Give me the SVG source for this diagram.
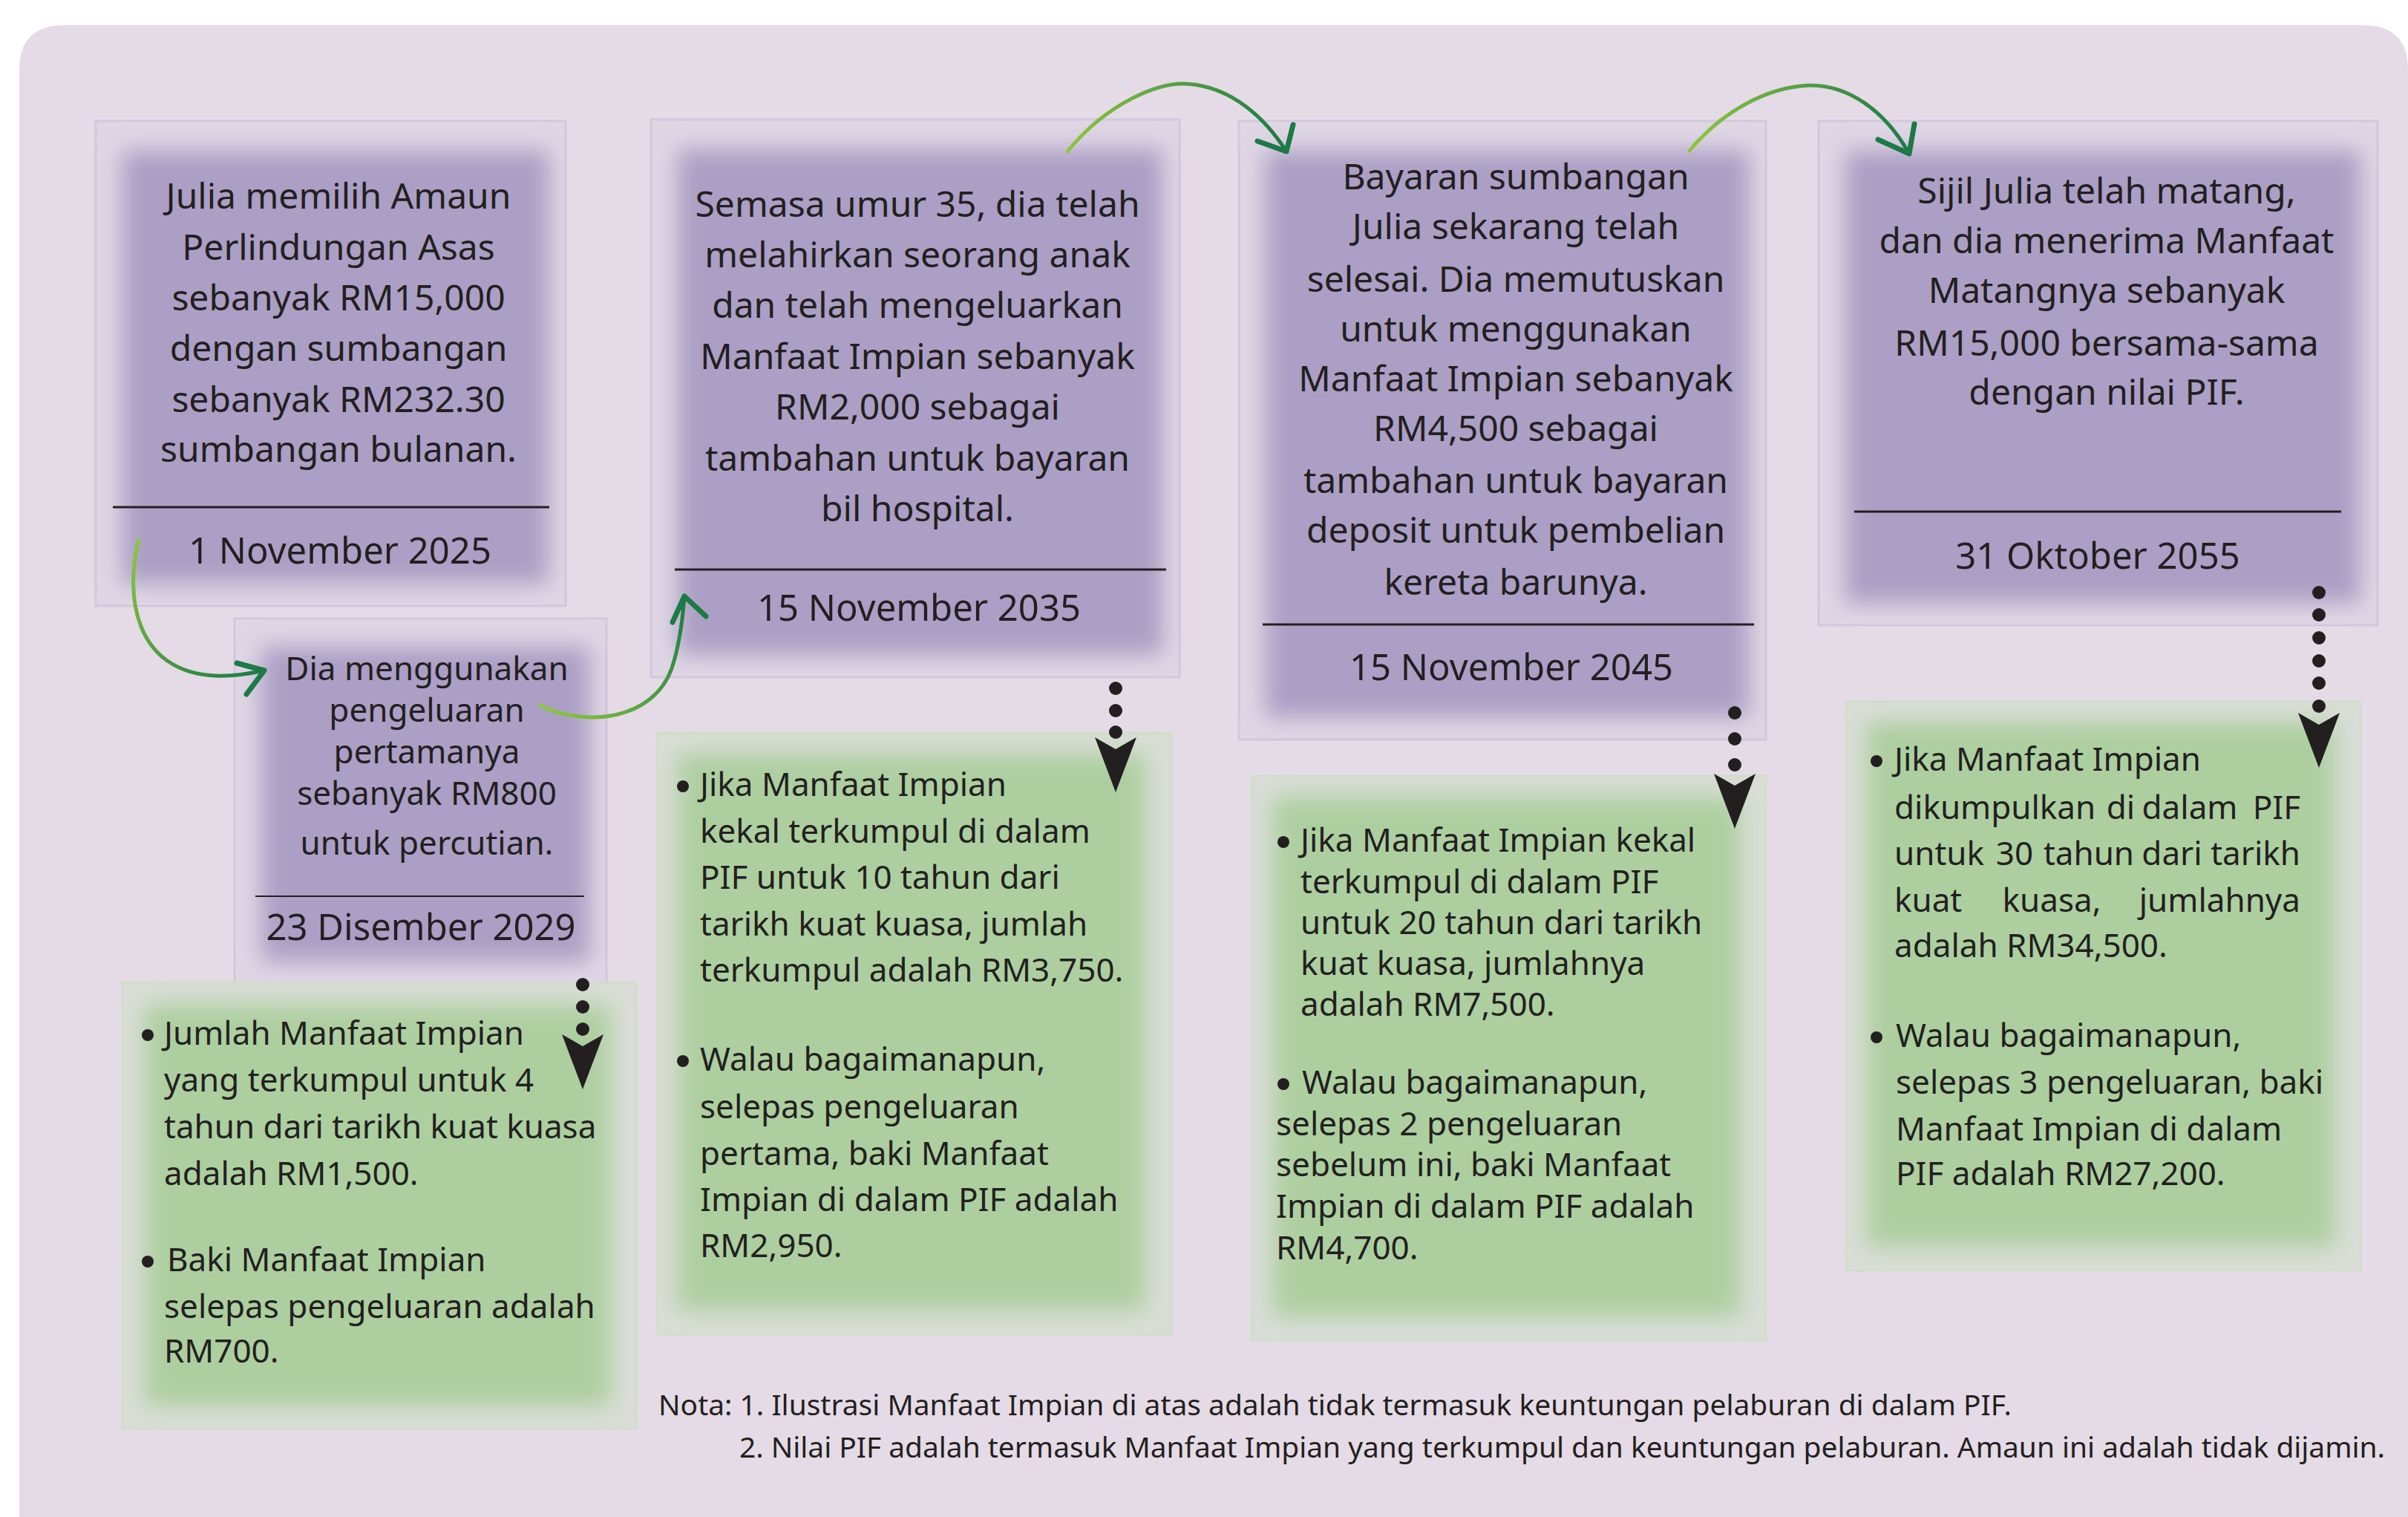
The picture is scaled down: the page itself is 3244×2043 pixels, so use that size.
<svg xmlns="http://www.w3.org/2000/svg" width="3244" height="2043" viewBox="0 0 3244 2043">
<defs>
<style>
.t{font-family:"Noto Sans","Liberation Sans",sans-serif;fill:#231F20}
.nt{font-size:48px;text-anchor:middle}
.n2{font-size:44px;text-anchor:middle}
.dt{font-size:49px;text-anchor:middle}
.gt{font-size:44px}
.end{text-anchor:end}
.mid{text-anchor:middle}
.note{font-size:38px}
.pout{fill:#DFD6E4;stroke:#D2C8DD;stroke-width:3}
.pin{fill:#AB9FC5;filter:url(#soft)}
.gout{fill:#D9DDD6;stroke:#D0DECA;stroke-width:3}
.gin{fill:#ADCFA0;filter:url(#soft)}
.sep{stroke:#231F20;stroke-width:3}
.dot{fill:#231F20}
.curve{fill:none;stroke-width:5;stroke-linecap:round}
.chev{fill:none;stroke:#1B7A45;stroke-width:7;stroke-linecap:round;stroke-linejoin:round}
</style>
<filter id="soft" x="-20%" y="-20%" width="140%" height="140%"><feGaussianBlur stdDeviation="15"/></filter>
<linearGradient id="g1" gradientUnits="userSpaceOnUse" x1="187" y1="727" x2="356" y2="903"><stop offset="0" stop-color="#8CC63F"/><stop offset="1" stop-color="#1B7A45"/></linearGradient>
<linearGradient id="g2" gradientUnits="userSpaceOnUse" x1="727" y1="950" x2="922" y2="803"><stop offset="0" stop-color="#8CC63F"/><stop offset="1" stop-color="#1B7A45"/></linearGradient>
<linearGradient id="g3" gradientUnits="userSpaceOnUse" x1="1438" y1="204" x2="1733" y2="204"><stop offset="0" stop-color="#8CC63F"/><stop offset="1" stop-color="#1B7A45"/></linearGradient>
<linearGradient id="g4" gradientUnits="userSpaceOnUse" x1="2276" y1="203" x2="2572" y2="207"><stop offset="0" stop-color="#8CC63F"/><stop offset="1" stop-color="#1B7A45"/></linearGradient>
<path id="stealth" d="M-28,0 L0,16 L28,0 L0,74 Z"/>
</defs>

<path id="background" d="M26,2100 L26,94 Q26,34 86,34 L3184,34 Q3244,34 3244,94 L3244,2100 Z" fill="#E5DBE6"/>

<g id="node1">
<rect class="pout" x="129" y="163" width="633" height="653"/>
<rect class="pin" x="165" y="203" width="574" height="583"/>
<text class="t nt" x="456"><tspan x="456" y="281">Julia memilih Amaun</tspan><tspan x="456" y="350">Perlindungan Asas</tspan><tspan x="456" y="418">sebanyak RM15,000</tspan><tspan x="456" y="486">dengan sumbangan</tspan><tspan x="456" y="555">sebanyak RM232.30</tspan><tspan x="456" y="622">sumbangan bulanan.</tspan></text>
<line class="sep" x1="152" y1="683" x2="740" y2="683"/>
<text class="t dt" x="458" y="759">1 November 2025</text>
</g>

<g id="node2">
<rect class="pout" x="316" y="833" width="501" height="492"/>
<rect class="pin" x="352" y="871" width="442" height="424"/>
<text class="t n2"><tspan x="575" y="916">Dia menggunakan</tspan><tspan x="575" y="972">pengeluaran</tspan><tspan x="575" y="1028">pertamanya</tspan><tspan x="575" y="1084">sebanyak RM800</tspan><tspan x="575" y="1151">untuk percutian.</tspan></text>
<line x1="344" y1="1207" x2="787" y2="1207" stroke="#231F20" stroke-width="2"/>
<text class="t dt" x="567" y="1266">23 Disember 2029</text>
</g>

<g id="node3">
<rect class="pout" x="877" y="161" width="712" height="751"/>
<rect class="pin" x="913" y="201" width="653" height="681"/>
<text class="t nt"><tspan x="1236" y="292">Semasa umur 35, dia telah</tspan><tspan x="1236" y="360">melahirkan seorang anak</tspan><tspan x="1236" y="428">dan telah mengeluarkan</tspan><tspan x="1236" y="497">Manfaat Impian sebanyak</tspan><tspan x="1236" y="565">RM2,000 sebagai</tspan><tspan x="1236" y="634">tambahan untuk bayaran</tspan><tspan x="1236" y="702">bil hospital.</tspan></text>
<line class="sep" x1="909" y1="767" x2="1571" y2="767"/>
<text class="t dt" x="1238" y="836">15 November 2035</text>
</g>

<g id="node4">
<rect class="pout" x="1669" y="163" width="710" height="833"/>
<rect class="pin" x="1705" y="203" width="651" height="763"/>
<text class="t nt"><tspan x="2042" y="255">Bayaran sumbangan</tspan><tspan x="2042" y="322">Julia sekarang telah</tspan><tspan x="2042" y="393">selesai. Dia memutuskan</tspan><tspan x="2042" y="460">untuk menggunakan</tspan><tspan x="2042" y="527">Manfaat Impian sebanyak</tspan><tspan x="2042" y="594">RM4,500 sebagai</tspan><tspan x="2042" y="664">tambahan untuk bayaran</tspan><tspan x="2042" y="731">deposit untuk pembelian</tspan><tspan x="2042" y="801">kereta barunya.</tspan></text>
<line class="sep" x1="1701" y1="841" x2="2363" y2="841"/>
<text class="t dt" x="2036" y="916">15 November 2045</text>
</g>

<g id="node5">
<rect class="pout" x="2450" y="163" width="753" height="679"/>
<rect class="pin" x="2486" y="203" width="694" height="609"/>
<text class="t nt"><tspan x="2838" y="274">Sijil Julia telah matang,</tspan><tspan x="2838" y="341">dan dia menerima Manfaat</tspan><tspan x="2838" y="408">Matangnya sebanyak</tspan><tspan x="2838" y="479">RM15,000 bersama-sama</tspan><tspan x="2838" y="545">dengan nilai PIF.</tspan></text>
<line class="sep" x1="2498" y1="689" x2="3154" y2="689"/>
<text class="t dt" x="2826" y="766">31 Oktober 2055</text>
</g>

<g id="green1">
<rect class="gout" x="165" y="1323" width="692" height="601"/>
<rect class="gin" x="195" y="1353" width="627" height="540"/>
<circle class="dot" cx="199" cy="1394" r="8"/>
<circle class="dot" cx="199" cy="1699" r="8"/>
<text class="t gt"><tspan x="221" y="1407">Jumlah Manfaat Impian</tspan><tspan x="221" y="1470">yang terkumpul untuk 4</tspan><tspan x="221" y="1533">tahun dari tarikh kuat kuasa</tspan><tspan x="221" y="1596">adalah RM1,500.</tspan><tspan x="225" y="1712">Baki Manfaat Impian</tspan><tspan x="221" y="1775">selepas pengeluaran adalah</tspan><tspan x="221" y="1835">RM700.</tspan></text>
</g>

<g id="green2">
<rect class="gout" x="885" y="987" width="693" height="810"/>
<rect class="gin" x="913" y="1015" width="630" height="750"/>
<circle class="dot" cx="920" cy="1059" r="8"/>
<circle class="dot" cx="920" cy="1429" r="8"/>
<text class="t gt"><tspan x="943" y="1072">Jika Manfaat Impian</tspan><tspan x="943" y="1135">kekal terkumpul di dalam</tspan><tspan x="943" y="1197">PIF untuk 10 tahun dari</tspan><tspan x="943" y="1260">tarikh kuat kuasa, jumlah</tspan><tspan x="943" y="1322">terkumpul adalah RM3,750.</tspan><tspan x="943" y="1442">Walau bagaimanapun,</tspan><tspan x="943" y="1506">selepas pengeluaran</tspan><tspan x="943" y="1569">pertama, baki Manfaat</tspan><tspan x="943" y="1631">Impian di dalam PIF adalah</tspan><tspan x="943" y="1693">RM2,950.</tspan></text>
</g>

<g id="green3">
<rect class="gout" x="1687" y="1045" width="692" height="760"/>
<rect class="gin" x="1715" y="1073" width="629" height="700"/>
<circle class="dot" cx="1729" cy="1134" r="8"/>
<circle class="dot" cx="1729" cy="1460" r="8"/>
<text class="t gt"><tspan x="1752" y="1147">Jika Manfaat Impian kekal</tspan><tspan x="1752" y="1203">terkumpul di dalam PIF</tspan><tspan x="1752" y="1258">untuk 20 tahun dari tarikh</tspan><tspan x="1752" y="1313">kuat kuasa, jumlahnya</tspan><tspan x="1752" y="1368">adalah RM7,500.</tspan><tspan x="1754" y="1473">Walau bagaimanapun,</tspan><tspan x="1719" y="1529">selepas 2 pengeluaran</tspan><tspan x="1719" y="1584">sebelum ini, baki Manfaat</tspan><tspan x="1719" y="1640">Impian di dalam PIF adalah</tspan><tspan x="1719" y="1696">RM4,700.</tspan></text>
</g>

<g id="green4">
<rect class="gout" x="2487" y="945" width="693" height="766"/>
<rect class="gin" x="2515" y="973" width="630" height="706"/>
<circle class="dot" cx="2528" cy="1025" r="8"/>
<circle class="dot" cx="2528" cy="1397" r="8"/>
<text class="t gt" x="2552" y="1038">Jika Manfaat Impian</text>
<text class="t gt" x="2552" y="1103">dikumpulkan</text>
<text class="t gt mid" y="1103"><tspan x="2857">di</tspan><tspan x="2950">dalam</tspan></text>
<text class="t gt end" x="3099" y="1103">PIF</text>
<text class="t gt" x="2552" y="1165">untuk</text>
<text class="t gt mid" y="1165"><tspan x="2714">30</tspan><tspan x="2814">tahun</tspan><tspan x="2926">dari</tspan></text>
<text class="t gt end" x="3099" y="1165">tarikh</text>
<text class="t gt" x="2552" y="1228">kuat</text>
<text class="t gt mid" x="2764" y="1228">kuasa,</text>
<text class="t gt end" x="3099" y="1228">jumlahnya</text>
<text class="t gt"><tspan x="2552" y="1289">adalah RM34,500.</tspan><tspan x="2554" y="1410">Walau bagaimanapun,</tspan><tspan x="2554" y="1473">selepas 3 pengeluaran, baki</tspan><tspan x="2554" y="1536">Manfaat Impian di dalam</tspan><tspan x="2554" y="1596">PIF adalah RM27,200.</tspan></text>
</g>

<g id="connectors">
<path class="curve" stroke="url(#g1)" d="M187,727 C168,800 180,905 290,910 C320,911 340,906 356,903"/>
<path class="chev" d="M319,893 L356,903 L332,935"/>
<path class="curve" stroke="url(#g2)" d="M727,950 C790,980 880,970 905,900 C915,870 920,830 922,803"/>
<path class="chev" d="M906,838 L922,803 L951,830"/>
<path class="curve" stroke="url(#g3)" d="M1438,204 C1490,140 1560,110 1600,113 C1660,117 1705,160 1733,204"/>
<path class="chev" d="M1694,190 L1733,204 L1742,168"/>
<path class="curve" stroke="url(#g4)" d="M2276,203 C2320,150 2380,118 2435,115 C2490,113 2540,150 2572,207"/>
<path class="chev" d="M2530,188 L2572,207 L2579,167"/>

<g id="dotted1"><circle class="dot" cx="785" cy="1326" r="9"/><circle class="dot" cx="785" cy="1356" r="9"/><circle class="dot" cx="785" cy="1386" r="9"/><use href="#stealth" x="785" y="1393" class="dot"/></g>
<g id="dotted2"><circle class="dot" cx="1503" cy="927" r="9"/><circle class="dot" cx="1503" cy="957" r="9"/><circle class="dot" cx="1503" cy="986" r="9"/><use href="#stealth" x="1503" y="993" class="dot"/></g>
<g id="dotted3"><circle class="dot" cx="2337" cy="960" r="9"/><circle class="dot" cx="2337" cy="995" r="9"/><circle class="dot" cx="2337" cy="1030" r="9"/><use href="#stealth" x="2337" y="1042" class="dot"/></g>
<g id="dotted4"><circle class="dot" cx="3124" cy="798" r="9"/><circle class="dot" cx="3124" cy="828" r="9"/><circle class="dot" cx="3124" cy="859" r="9"/><circle class="dot" cx="3124" cy="890" r="9"/><circle class="dot" cx="3124" cy="920" r="9"/><circle class="dot" cx="3124" cy="951" r="9"/><use href="#stealth" x="3124" y="960" class="dot"/></g>
</g>

<g id="notes">
<text class="t note" x="887" y="1906" textLength="1823" lengthAdjust="spacingAndGlyphs">Nota: 1. Ilustrasi Manfaat Impian di atas adalah tidak termasuk keuntungan pelaburan di dalam PIF.</text>
<text class="t note" x="996" y="1963" textLength="2217" lengthAdjust="spacingAndGlyphs">2. Nilai PIF adalah termasuk Manfaat Impian yang terkumpul dan keuntungan pelaburan. Amaun ini adalah tidak dijamin.</text>
</g>
</svg>
